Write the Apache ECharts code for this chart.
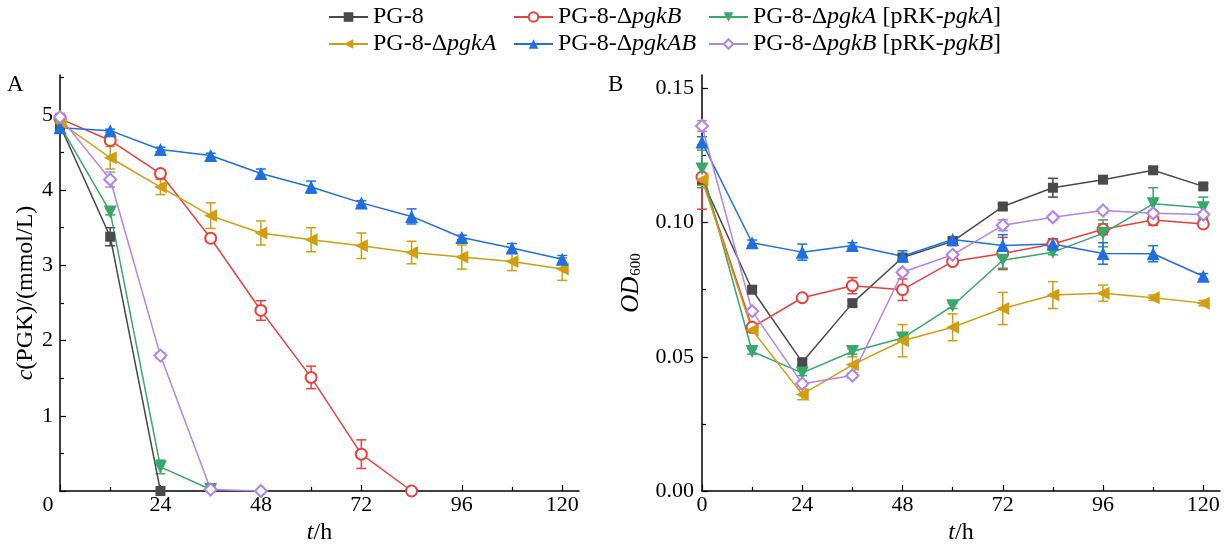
<!DOCTYPE html>
<html>
<head>
<meta charset="utf-8">
<script src="https://cdn.jsdelivr.net/npm/echarts@6/dist/echarts.min.js"></script>
<style>
html, body { margin: 0; padding: 0; background: #fff; }
#chart { width: 1228px; height: 544px; }
</style>
</head>
<body>
<div id="chart"></div>
<script>
const font = "'Liberation Serif', 'Times New Roman', serif"
const hours = [0, 12, 24, 36, 48, 60, 72, 84, 96, 108, 120]
const names = ['PG-8', 'PG-8-ΔpgkB', 'PG-8-ΔpgkA [pRK-pgkA]', 'PG-8-ΔpgkA', 'PG-8-ΔpgkAB', 'PG-8-ΔpgkB [pRK-pgkB]']
const labels = ['PG-8', 'PG-8-Δ{i|pgkB}', 'PG-8-Δ{i|pgkA} [pRK-{i|pgkA}]', 'PG-8-Δ{i|pgkA}', 'PG-8-Δ{i|pgkAB}', 'PG-8-Δ{i|pgkB} [pRK-{i|pgkB}]']
const colors = ['#4a4a4a', '#e8413c', '#35a86a', '#d29e10', '#1f6fe0', '#b184ea']
const symbols = ['rect', 'emptyCircle', 'triangle', 'triangle', 'triangle', 'emptyDiamond']
const rotates = [0, 0, 180, 90, 0, 0]
const sizes = [10, 11, 13, 13, 13, 12]

// A: c(PGK) mmol/L
const pgkPG8 = [4.86, 3.38, 0]
const pgkB = [4.95, 4.66, 4.22, 3.36, 2.40, 1.51, 0.49, 0]
const pgkAComp = [4.86, 3.71, 0.32, 0.02]
const pgkA = [4.90, 4.43, 4.04, 3.66, 3.43, 3.34, 3.26, 3.17, 3.11, 3.05, 2.95]
const pgkAB = [4.83, 4.79, 4.54, 4.46, 4.22, 4.04, 3.83, 3.65, 3.37, 3.23, 3.08]
const pgkBComp = [4.97, 4.14, 1.80, 0.02, 0]
const pgkPG8Err = [0.05, 0.12, 0]
const pgkBErr = [0.03, 0.04, 0.05, 0.05, 0.13, 0.15, 0.19, 0]
const pgkACompErr = [0.05, 0.04, 0.09, 0.02]
const pgkAErr = [0.05, 0.15, 0.1, 0.17, 0.16, 0.16, 0.17, 0.15, 0.16, 0.12, 0.15]
const pgkABErr = [0.03, 0.02, 0.03, 0.03, 0.06, 0.08, 0.03, 0.1, 0.03, 0.06, 0.05]
const pgkBCompErr = [0.05, 0.1, 0.04, 0.03, 0]

// B: OD600
const odPG8 = [0.116, 0.075, 0.048, 0.070, 0.087, 0.093, 0.106, 0.113, 0.116, 0.1195, 0.1135]
const odB = [0.117, 0.061, 0.072, 0.0765, 0.075, 0.0855, 0.0885, 0.092, 0.0975, 0.101, 0.0995]
const odAComp = [0.120, 0.052, 0.044, 0.052, 0.057, 0.069, 0.086, 0.089, 0.096, 0.107, 0.1055]
const odA = [0.116, 0.060, 0.036, 0.047, 0.056, 0.061, 0.068, 0.073, 0.0737, 0.072, 0.070]
const odAB = [0.130, 0.0925, 0.089, 0.0915, 0.0875, 0.0937, 0.0915, 0.092, 0.0885, 0.0884, 0.080]
const odBComp = [0.136, 0.067, 0.040, 0.043, 0.0815, 0.088, 0.099, 0.102, 0.1045, 0.1035, 0.103]
const odPG8Err = [0.002, 0.001, 0.001, 0.001, 0.001, 0.001, 0.001, 0.0035, 0.001, 0.001, 0.001]
const odBErr = [0.012, 0.001, 0.001, 0.003, 0.004, 0.001, 0.006, 0.002, 0.002, 0.002, 0.001]
const odACompErr = [0.007, 0.001, 0.001, 0.001, 0.001, 0.001, 0.003, 0.001, 0.005, 0.006, 0.004]
const odAErr = [0.002, 0.001, 0.002, 0.003, 0.006, 0.005, 0.006, 0.005, 0.003, 0.001, 0.001]
const odABErr = [0.002, 0.001, 0.003, 0.001, 0.002, 0.001, 0.004, 0.002, 0.004, 0.003, 0.001]
const odBCompErr = [0.002, 0.001, 0.001, 0.001, 0.001, 0.001, 0.002, 0.001, 0.001, 0.001, 0.001]

const xTicks = [0, 24, 48, 72, 96, 120]
const yTicksA = [0, 1, 2, 3, 4, 5]
const yTicksB = [0, 0.05, 0.10, 0.15]

function lineSeries (idx, values, axis) {
  return {
    name: names[idx],
    type: 'line',
    xAxisIndex: axis,
    yAxisIndex: axis,
    data: values.map((v, i) => [hours[i], v]),
    symbol: symbols[idx],
    symbolSize: sizes[idx],
    symbolRotate: rotates[idx],
    itemStyle: { color: colors[idx], borderWidth: 1.5 },
    lineStyle: { color: colors[idx], width: 1.5 },
    z: 3
  }
}

function errorSeries (idx, values, errs, axis) {
  return {
    name: names[idx] + ' err',
    type: 'custom',
    xAxisIndex: axis,
    yAxisIndex: axis,
    silent: true,
    data: values.map((v, i) => [hours[i], v - errs[i], v + errs[i]]),
    encode: { x: 0, y: [1, 2] },
    renderItem: (params, api) => {
      const x = api.value(0)
      const lo = api.value(1)
      const hi = api.value(2)
      if (hi - lo <= 0) return
      const p1 = api.coord([x, lo])
      const p2 = api.coord([x, hi])
      const w = 5
      const style = { stroke: colors[idx], lineWidth: 1.5 }
      return {
        type: 'group',
        children: [
          { type: 'line', shape: { x1: p1[0], y1: p1[1], x2: p2[0], y2: p2[1] }, style },
          { type: 'line', shape: { x1: p1[0] - w, y1: p1[1], x2: p1[0] + w, y2: p1[1] }, style },
          { type: 'line', shape: { x1: p2[0] - w, y1: p2[1], x2: p2[0] + w, y2: p2[1] }, style }
        ]
      }
    },
    z: 2
  }
}

const axisLine = { lineStyle: { color: '#000', width: 1.5 } }
const tickStyle = { color: '#000', width: 1.2 }

function xAxis (grid, shiftZero) {
  return {
    type: 'value',
    gridIndex: grid,
    min: 0,
    max: 124,
    interval: 24,
    name: '{i|t}/h',
    nameLocation: 'middle',
    nameGap: 27,
    nameTextStyle: { fontFamily: font, fontSize: 24, color: '#000', rich: { i: { fontFamily: font, fontSize: 24, fontStyle: 'italic', color: '#000' } } },
    axisLine,
    axisTick: { inside: true, length: 6, lineStyle: tickStyle, customValues: xTicks },
    minorTick: { show: true, splitNumber: 2, length: 4, lineStyle: tickStyle },
    splitLine: { show: false },
    axisLabel: {
      customValues: xTicks,
      fontFamily: font,
      fontSize: 22,
      color: '#000',
      margin: 3,
      formatter: v => (shiftZero && v === 0) ? '{z|0}' : String(v),
      rich: { z: { fontFamily: font, fontSize: 22, color: '#000', padding: [0, 24, 0, 0] } }
    }
  }
}

const option = {
  backgroundColor: '#fff',
  animation: false,
  grid: [
    { left: 60, right: 649, top: 75, bottom: 53, outerBoundsMode: 'none', containLabel: false },
    { left: 702, right: 8, top: 75, bottom: 53, outerBoundsMode: 'none', containLabel: false }
  ],
  legend: [0, 1, 2].map(c => ({
    data: [names[c], names[c + 3]],
    orient: 'vertical',
    left: [323, 508, 703][c],
    top: 0,
    itemGap: 3,
    itemWidth: 39,
    itemHeight: 12,
    selectedMode: false,
    formatter: n => labels[names.indexOf(n)],
    textStyle: {
      fontFamily: font,
      fontSize: 24,
      color: '#000',
      rich: { i: { fontFamily: font, fontSize: 24, fontStyle: 'italic', color: '#000' } }
    }
  })),
  xAxis: [xAxis(0, true), xAxis(1, false)],
  yAxis: [
    {
      type: 'value',
      gridIndex: 0,
      min: 0,
      max: 5.53,
      interval: 1,
      name: '{i|c}(PGK)/(mmol/L)',
      nameLocation: 'middle',
      nameGap: 21,
      nameTextStyle: { fontFamily: font, fontSize: 24, color: '#000', padding: [0, 20, 0, 0], rich: { i: { fontFamily: font, fontSize: 24, fontStyle: 'italic', color: '#000' } } },
      axisLine: { show: true, ...axisLine },
      axisTick: { inside: true, length: 6, lineStyle: tickStyle, customValues: yTicksA },
      minorTick: { show: true, splitNumber: 2, length: 4, lineStyle: tickStyle },
      splitLine: { show: false },
      axisLabel: {
        customValues: yTicksA.slice(1),
        fontFamily: font,
        fontSize: 22,
        color: '#000',
        margin: 7
      }
    },
    {
      type: 'value',
      gridIndex: 1,
      min: 0,
      max: 0.155,
      interval: 0.05,
      name: '{i|OD}{s|600}',
      nameLocation: 'middle',
      nameGap: 58,
      nameTextStyle: {
        fontFamily: font,
        fontSize: 25,
        color: '#000',
        rich: {
          i: { fontFamily: font, fontSize: 25, fontStyle: 'italic', color: '#000', verticalAlign: 'top', lineHeight: 25 },
          s: { fontFamily: font, fontSize: 15, color: '#000', verticalAlign: 'bottom', lineHeight: 15, padding: [14, 0, 0, 1] }
        }
      },
      axisLine: { show: true, ...axisLine },
      axisTick: { inside: true, length: 6, lineStyle: tickStyle, customValues: yTicksB },
      minorTick: { show: true, splitNumber: 2, length: 4, lineStyle: tickStyle },
      splitLine: { show: false },
      axisLabel: {
        customValues: yTicksB,
        fontFamily: font,
        fontSize: 22,
        color: '#000',
        margin: 8,
        formatter: v => v.toFixed(2)
      }
    }
  ],
  graphic: [
    { type: 'text', left: 7, top: 73, style: { text: 'A', fontFamily: font, fontSize: 23, fill: '#000' } },
    { type: 'text', left: 608, top: 73, style: { text: 'B', fontFamily: font, fontSize: 23, fill: '#000' } }
  ],
  series: [
    errorSeries(0, pgkPG8, pgkPG8Err, 0),
    errorSeries(1, pgkB, pgkBErr, 0),
    errorSeries(2, pgkAComp, pgkACompErr, 0),
    errorSeries(3, pgkA, pgkAErr, 0),
    errorSeries(4, pgkAB, pgkABErr, 0),
    errorSeries(5, pgkBComp, pgkBCompErr, 0),
    lineSeries(0, pgkPG8, 0),
    lineSeries(1, pgkB, 0),
    lineSeries(2, pgkAComp, 0),
    lineSeries(3, pgkA, 0),
    lineSeries(4, pgkAB, 0),
    lineSeries(5, pgkBComp, 0),
    errorSeries(0, odPG8, odPG8Err, 1),
    errorSeries(1, odB, odBErr, 1),
    errorSeries(2, odAComp, odACompErr, 1),
    errorSeries(3, odA, odAErr, 1),
    errorSeries(4, odAB, odABErr, 1),
    errorSeries(5, odBComp, odBCompErr, 1),
    lineSeries(0, odPG8, 1),
    lineSeries(1, odB, 1),
    lineSeries(2, odAComp, 1),
    lineSeries(3, odA, 1),
    lineSeries(4, odAB, 1),
    lineSeries(5, odBComp, 1)
  ]
}

const chart = echarts.init(document.getElementById('chart'))
chart.setOption(option)
</script>
</body>
</html>
